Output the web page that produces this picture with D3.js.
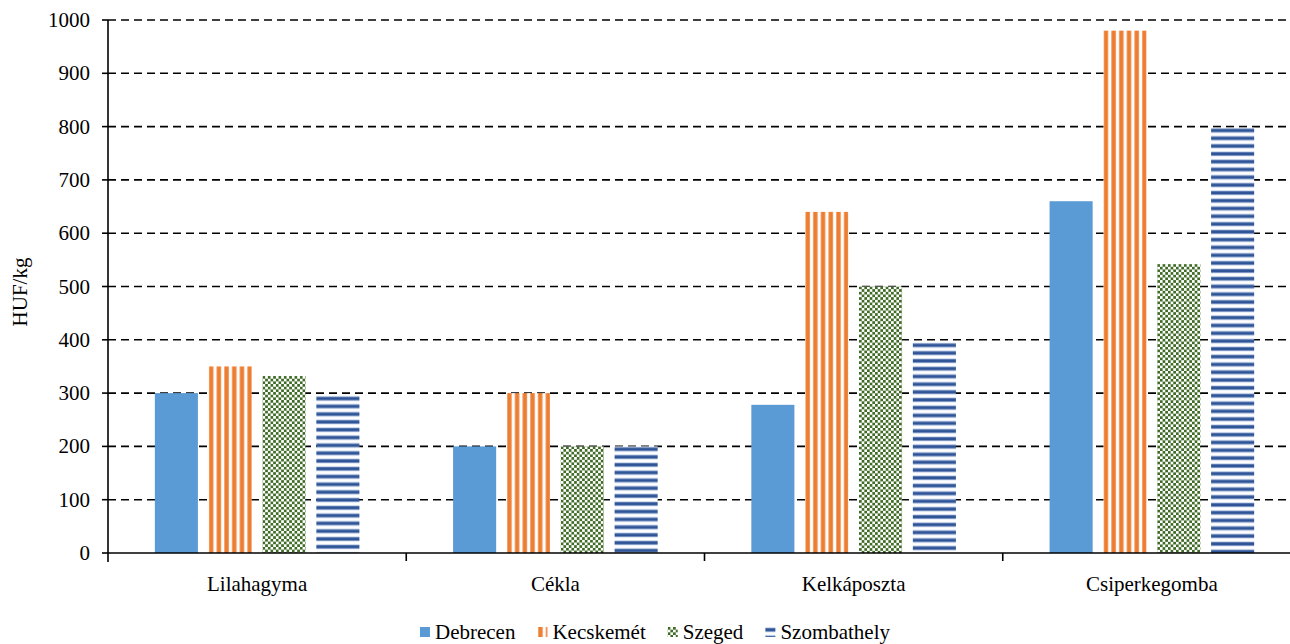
<!DOCTYPE html>
<html>
<head>
<meta charset="utf-8">
<script src="https://cdn.jsdelivr.net/npm/d3@7"></script>
<style>
  html, body { margin: 0; padding: 0; background: #fff; }
  svg { display: block; }
</style>
</head>
<body>
<svg id="chart" width="1290" height="644"></svg>
<script>
const categories = ["Lilahagyma", "Cékla", "Kelkáposzta", "Csiperkegomba"];
const seriesNames = ["Debrecen", "Kecskemét", "Szeged", "Szombathely"];
const debrecen    = [300, 200, 278, 660];
const kecskemet   = [350, 300, 640, 980];
const szeged      = [332, 200, 500, 542];
const szombathely = [295, 200, 395, 798];
const yTicks = [0, 100, 200, 300, 400, 500, 600, 700, 800, 900, 1000];
const yTitle = "HUF/kg";

(function () {
const FONT = "'Liberation Serif'";
const seriesValues = [debrecen, kecskemet, szeged, szombathely];
const colors = { blue: "#5B9BD5", orange: "#ED7D31", green: "#3F6B26", navy: "#2F5597" };

const svg = d3.select("#chart");
const defs = svg.append("defs");

const mLeft = 108, mRight = 1301, mTop = 20, mBottom = 553;
const x0 = d3.scaleBand().domain(categories).range([mLeft, mRight]).paddingInner(0).paddingOuter(0);
const x1 = d3.scaleBand().domain(seriesNames).range([0, x0.bandwidth()]).paddingInner(0.2).paddingOuter(0.87);
const y = d3.scaleLinear().domain([0, 1000]).range([mBottom, mTop]);

svg.append("g").selectAll("line").data(yTicks.filter(d => d > 0)).join("line")
  .attr("x1", mLeft).attr("x2", 1290)
  .attr("y1", d => y(d)).attr("y2", d => y(d))
  .attr("stroke", "#000").attr("stroke-width", 1.6)
  .attr("stroke-dasharray", "8,5");

function makePattern(id, kind, ox, oy) {
  if (kind === 1) {
    const p = defs.append("pattern").attr("id", id).attr("patternUnits", "userSpaceOnUse")
      .attr("x", ox).attr("y", 0).attr("width", 7.7).attr("height", 10);
    p.append("rect").attr("width", 7.7).attr("height", 10).attr("fill", "#fff");
    p.append("rect").attr("x", 0).attr("width", 5).attr("height", 10).attr("fill", "#F8CBAD");
    p.append("rect").attr("x", 0.5).attr("width", 4).attr("height", 10).attr("fill", colors.orange);
  } else if (kind === 2) {
    const s = 2.67;
    const p = defs.append("pattern").attr("id", id).attr("patternUnits", "userSpaceOnUse")
      .attr("x", ox).attr("y", oy).attr("width", 2 * s).attr("height", 2 * s);
    p.append("rect").attr("width", 2 * s).attr("height", 2 * s).attr("fill", "#fff");
    p.append("rect").attr("x", 0).attr("y", 0).attr("width", s).attr("height", s).attr("fill", colors.green);
    p.append("rect").attr("x", s).attr("y", s).attr("width", s).attr("height", s).attr("fill", colors.green);
  } else if (kind === 3) {
    const p = defs.append("pattern").attr("id", id).attr("patternUnits", "userSpaceOnUse")
      .attr("x", 0).attr("y", oy).attr("width", 10).attr("height", 7.8);
    p.append("rect").attr("width", 10).attr("height", 7.8).attr("fill", "#fff");
    p.append("rect").attr("y", 0.5).attr("width", 10).attr("height", 4.6).attr("fill", "#A9BCE0");
    p.append("rect").attr("y", 1.3).attr("width", 10).attr("height", 3.0).attr("fill", colors.navy);
  }
}

const barData = [];
categories.forEach((c, ci) => {
  seriesNames.forEach((s, si) => {
    barData.push({ c, s, si, v: seriesValues[si][ci], id: `p${ci}_${si}` });
  });
});
barData.forEach(d => {
  if (d.si > 0) makePattern(d.id, d.si, x0(d.c) + x1(d.s), y(d.v));
});

svg.append("g").selectAll("rect").data(barData).join("rect")
  .attr("x", d => x0(d.c) + x1(d.s))
  .attr("y", d => y(d.v))
  .attr("width", x1.bandwidth())
  .attr("height", d => y(0) - y(d.v))
  .attr("fill", d => d.si === 0 ? colors.blue : `url(#${d.id})`);

const yAxis = svg.append("g");
yAxis.append("line").attr("x1", mLeft).attr("x2", mLeft).attr("y1", mTop).attr("y2", mBottom + 9)
  .attr("stroke", "#000").attr("stroke-width", 1.6);
yAxis.selectAll(".tk").data(yTicks).join("line").attr("class", "tk")
  .attr("x1", mLeft - 6).attr("x2", mLeft).attr("y1", d => y(d)).attr("y2", d => y(d))
  .attr("stroke", "#000").attr("stroke-width", 1.6);
yAxis.selectAll("text").data(yTicks).join("text")
  .attr("x", 90).attr("y", d => y(d) + 7)
  .attr("text-anchor", "end").attr("font-family", FONT).attr("font-size", 21)
  .text(d => d);

const xAxis = svg.append("g");
xAxis.append("line").attr("x1", mLeft).attr("x2", 1290).attr("y1", mBottom).attr("y2", mBottom)
  .attr("stroke", "#000").attr("stroke-width", 1.6);
xAxis.selectAll(".tk").data(categories.slice(1)).join("line").attr("class", "tk")
  .attr("x1", d => x0(d)).attr("x2", d => x0(d)).attr("y1", mBottom).attr("y2", mBottom + 8)
  .attr("stroke", "#000").attr("stroke-width", 1.6);
xAxis.selectAll("text").data(categories).join("text")
  .attr("x", d => x0(d) + x0.bandwidth() / 2).attr("y", 591)
  .attr("text-anchor", "middle").attr("font-family", FONT).attr("font-size", 21)
  .text(d => d);

svg.append("text").attr("transform", "translate(27,292) rotate(-90)")
  .attr("text-anchor", "middle").attr("font-family", FONT).attr("font-size", 21)
  .text(yTitle);

const legend = svg.append("g");
const items = legend.selectAll("g").data(seriesNames).join("g");
items.append("text").attr("y", 639)
  .attr("font-family", FONT).attr("font-size", 21).text(d => d);
const widths = [];
items.select("text").each(function () { widths.push(this.getComputedTextLength()); });
const mark = 10, mgap = 5, igap = 22;
const total = d3.sum(widths) + seriesNames.length * (mark + mgap) + (seriesNames.length - 1) * igap;
let cx = 655 - total / 2;
items.each(function (d, i) {
  const g = d3.select(this);
  const mx = cx, my = 627;
  if (i > 0) makePattern(`lg${i}`, i, mx + (i === 1 ? 0.5 : 0), my);
  g.insert("rect", "text").attr("x", mx).attr("y", my).attr("width", mark).attr("height", mark)
    .attr("fill", i === 0 ? colors.blue : `url(#lg${i})`);
  g.select("text").attr("x", mx + mark + mgap);
  cx += mark + mgap + widths[i] + igap;
});
})();
</script>
</body>
</html>
